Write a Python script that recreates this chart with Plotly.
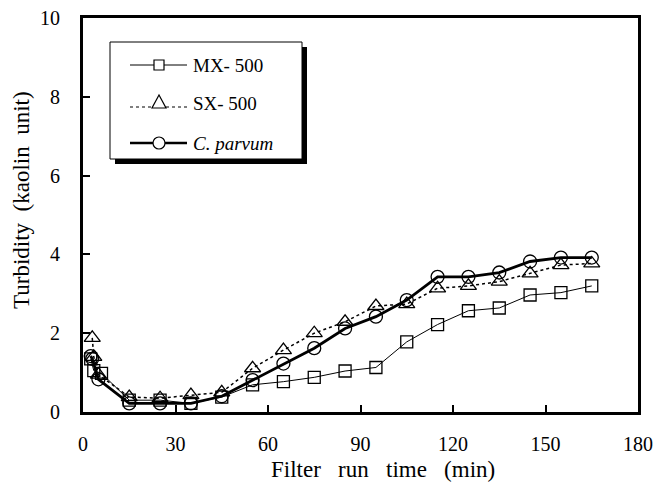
import plotly.graph_objects as go

# ---- data ----
mx_time = [2.5, 3.5, 6, 15, 25, 35, 45, 55, 65, 75, 85, 95, 105, 115, 125, 135, 145, 155, 165]
mx_turb = [1.35, 1.05, 0.98, 0.30, 0.30, 0.22, 0.38, 0.69, 0.77, 0.88, 1.04, 1.13, 1.78, 2.22, 2.57, 2.64, 2.97, 3.03, 3.20]

sx_time = [3, 3.5, 5, 15, 25, 35, 45, 55, 65, 75, 85, 95, 105, 115, 125, 135, 145, 155, 165]
sx_turb = [1.88, 1.40, 0.95, 0.38, 0.35, 0.43, 0.50, 1.11, 1.57, 2.00, 2.29, 2.69, 2.74, 3.14, 3.20, 3.31, 3.52, 3.73, 3.77]

cp_time = [2.5, 3, 5, 15, 25, 35, 45, 55, 65, 75, 85, 95, 105, 115, 125, 135, 145, 155, 165]
cp_turb = [1.42, 1.35, 0.83, 0.22, 0.22, 0.22, 0.40, 0.81, 1.23, 1.62, 2.12, 2.42, 2.84, 3.43, 3.43, 3.54, 3.82, 3.92, 3.92]

series_names = ["MX- 500", "SX- 500", "<i>C. parvum</i>"]
x_ticks = [0, 30, 60, 90, 120, 150, 180]
y_ticks = [0, 2, 4, 6, 8, 10]
x_title = "Filter   run   time   (min)"
y_title = "Turbidity  (kaolin  unit)"

FONT = "Liberation Serif"
W, H = 658, 484
ML, MR, MT, MB = 83, 20, 18, 72
XR = (0, 180)
YR = (0, 10)
PW = W - ML - MR
PH = H - MT - MB


def px2x(px):
    return (px - ML) / PW * (XR[1] - XR[0]) + XR[0]


def py2y(py):
    return (MT + PH - py) / PH * (YR[1] - YR[0]) + YR[0]


def px2paper(px):
    return (px - ML) / PW


def py2paper(py):
    return (MT + PH - py) / PH


fig = go.Figure()
fig.add_trace(go.Scatter(x=mx_time, y=mx_turb, mode="lines+markers", name=series_names[0],
                         line=dict(color="black", width=1),
                         marker=dict(symbol="square-open", size=12, color="black", line=dict(width=1.3))))
fig.add_trace(go.Scatter(x=sx_time, y=sx_turb, mode="lines+markers", name=series_names[1],
                         line=dict(color="black", width=1.5, dash="dot"),
                         marker=dict(symbol="triangle-up-open", size=14, color="black", line=dict(width=1.3))))
fig.add_trace(go.Scatter(x=cp_time, y=cp_turb, mode="lines+markers", name=series_names[2],
                         line=dict(color="black", width=2.8),
                         marker=dict(symbol="circle-open", size=13, color="black", line=dict(width=1.3))))

shapes = []
# legend shadow and box
bx0, bx1, by0, by1 = 110, 302, 42, 159
shapes.append(dict(type="rect", xref="x", yref="y", x0=px2x(bx0 + 5), x1=px2x(bx1 + 5),
                   y0=py2y(by0 + 5), y1=py2y(by1 + 5), fillcolor="black", line=dict(width=0), layer="above"))
shapes.append(dict(type="rect", xref="x", yref="y", x0=px2x(bx0), x1=px2x(bx1),
                   y0=py2y(by0), y1=py2y(by1), fillcolor="white", line=dict(color="black", width=1), layer="above"))

rows = [65, 103, 143]
lx0, lx1, mxc = 130, 187, 159
# row 1: thin line + square
shapes.append(dict(type="line", xref="x", yref="y", x0=px2x(lx0), x1=px2x(lx1), y0=py2y(rows[0]), y1=py2y(rows[0]),
                   line=dict(color="black", width=1), layer="above"))
shapes.append(dict(type="rect", xref="x", yref="y", x0=px2x(mxc - 5), x1=px2x(mxc + 5),
                   y0=py2y(rows[0] - 5), y1=py2y(rows[0] + 5), fillcolor="white",
                   line=dict(color="black", width=1.2), layer="above"))
# row 2: dotted line + triangle
shapes.append(dict(type="line", xref="x", yref="y", x0=px2x(lx0), x1=px2x(lx1), y0=py2y(rows[1] + 4), y1=py2y(rows[1] + 4),
                   line=dict(color="black", width=1.2, dash="dot"), layer="above"))
tri = "M {} {} L {} {} L {} {} Z".format(px2x(mxc - 7), py2y(rows[1] + 5), px2x(mxc + 7), py2y(rows[1] + 5),
                                         px2x(mxc), py2y(rows[1] - 8))
shapes.append(dict(type="path", xref="x", yref="y", path=tri, fillcolor="white",
                   line=dict(color="black", width=1.2), layer="above"))
# row 3: thick line + circle
shapes.append(dict(type="line", xref="x", yref="y", x0=px2x(lx0), x1=px2x(lx1), y0=py2y(rows[2]), y1=py2y(rows[2]),
                   line=dict(color="black", width=2.5), layer="above"))
shapes.append(dict(type="circle", xref="x", yref="y", x0=px2x(mxc - 6), x1=px2x(mxc + 6),
                   y0=py2y(rows[2] - 6), y1=py2y(rows[2] + 6), fillcolor="white",
                   line=dict(color="black", width=1.2), layer="above"))

annotations = []
for name, r in zip(series_names, rows):
    annotations.append(dict(x=px2x(191), y=py2y(r), xref="x", yref="y", text=name, showarrow=False,
                            xanchor="left", yanchor="middle", font=dict(family=FONT, size=19, color="black")))
# axis titles
annotations.append(dict(x=px2paper(383), y=py2paper(469), xref="paper", yref="paper", text=x_title,
                        showarrow=False, xanchor="center", yanchor="middle",
                        font=dict(family=FONT, size=23, color="black")))
annotations.append(dict(x=px2paper(21), y=py2paper(200), xref="paper", yref="paper", text=y_title,
                        showarrow=False, xanchor="center", yanchor="middle", textangle=-90,
                        font=dict(family=FONT, size=23, color="black")))

fig.update_layout(
    width=W, height=H,
    margin=dict(l=ML, r=MR, t=MT, b=MB, autoexpand=False),
    paper_bgcolor="white", plot_bgcolor="white",
    showlegend=False,
    shapes=shapes,
    annotations=annotations,
    font=dict(family=FONT, size=20, color="black"),
)
fig.update_xaxes(range=list(XR), tickvals=x_ticks, ticktext=[str(v) for v in x_ticks], automargin=False,
                 showgrid=False, zeroline=False, showline=True, linecolor="black", linewidth=3, mirror=True,
                 ticks="inside", ticklen=7, tickwidth=2, tickcolor="black", ticklabelstandoff=12,
                 tickfont=dict(family=FONT, size=20, color="black"))
fig.update_yaxes(range=list(YR), tickvals=y_ticks, ticktext=[str(v) for v in y_ticks], automargin=False,
                 showgrid=False, zeroline=False, showline=True, linecolor="black", linewidth=3, mirror=True,
                 ticks="inside", ticklen=7, tickwidth=2, tickcolor="black", ticklabelstandoff=16,
                 tickfont=dict(family=FONT, size=20, color="black"))

fig.write_html("out.html", config={"displayModeBar": False},
               post_script="document.body.style.margin='0px'; document.body.style.overflow='hidden';")
